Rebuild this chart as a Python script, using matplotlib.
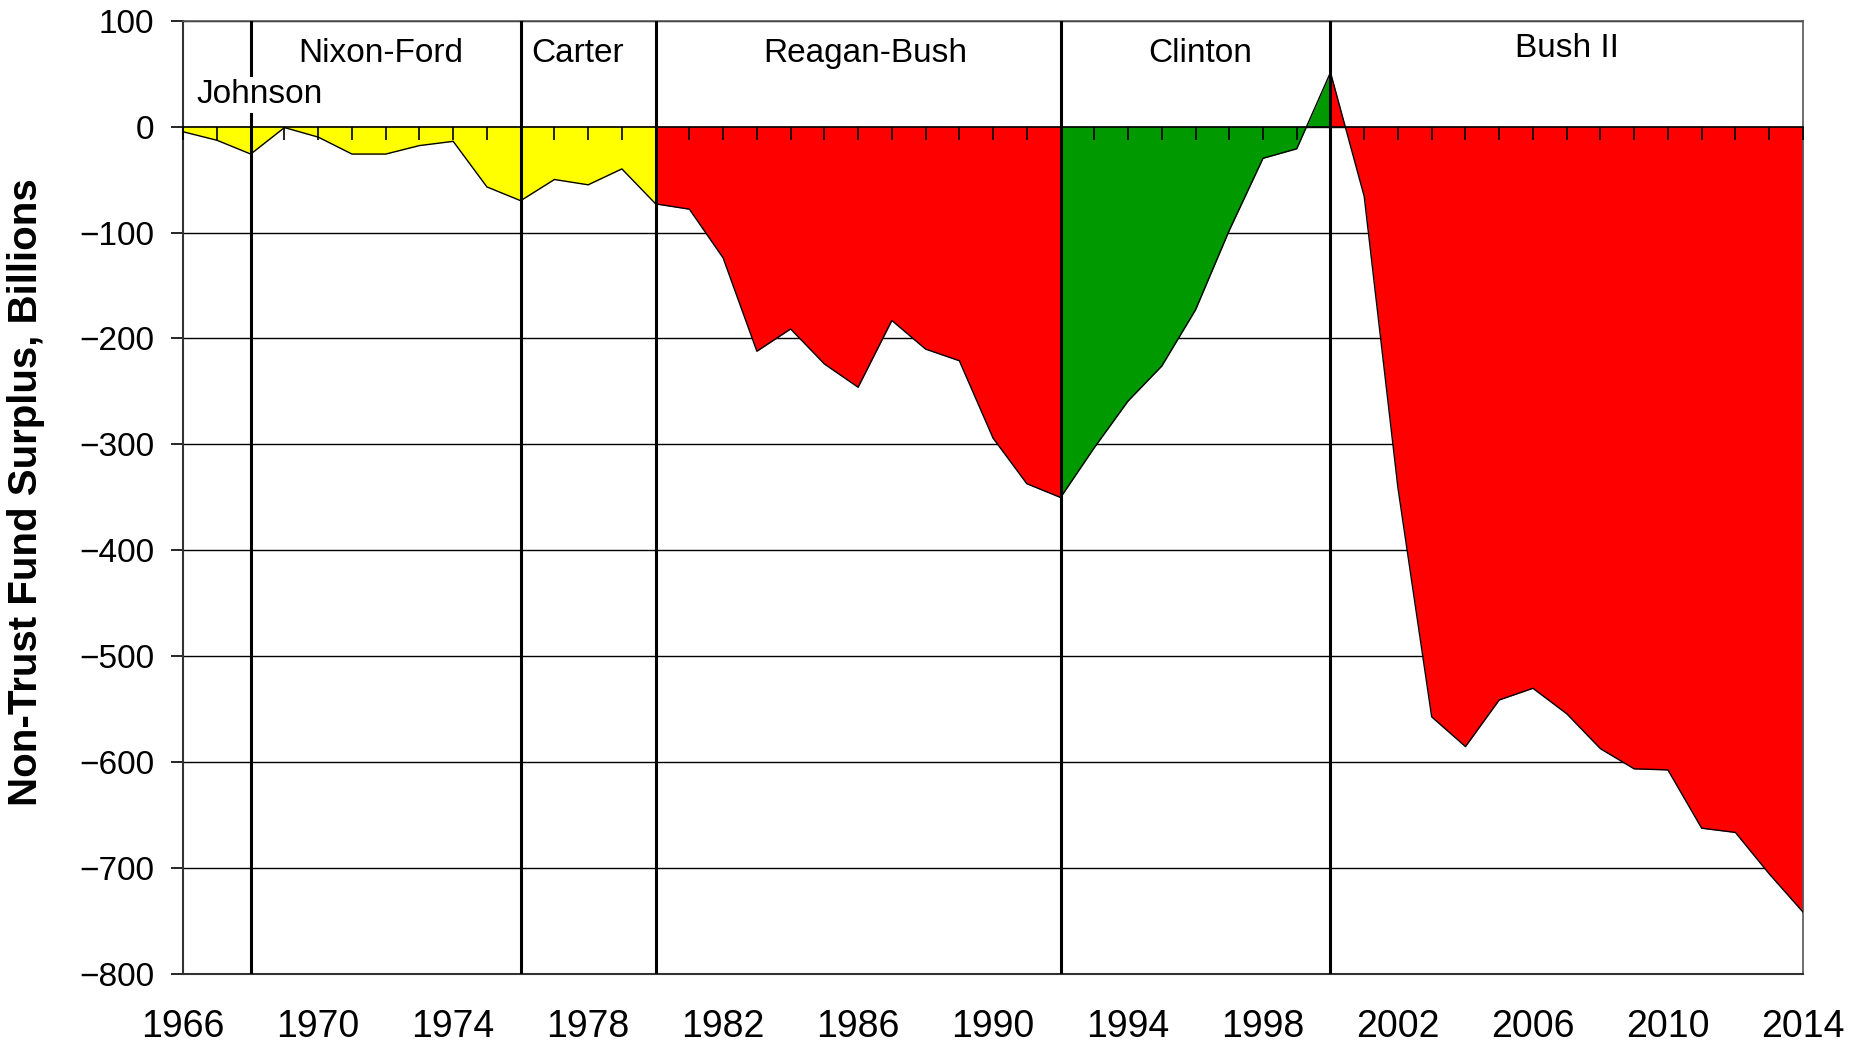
import matplotlib
matplotlib.use('Agg')
import matplotlib.pyplot as plt
import numpy as np

plt.rcParams['font.family'] = ['Liberation Sans', 'DejaVu Sans']

# Podaci: suficit bez fondova (milijarde $), po godinama
years = np.arange(1966, 2015)
surplus = np.array([
    -5, -13, -26, -1, -10, -26, -26, -18, -14, -57,        # 1966-1975
    -70, -50, -55, -40, -73, -78, -124, -212, -191, -224,  # 1976-1985
    -246, -183, -210, -221, -294, -337, -350, -303, -259, -226,  # 1986-1995
    -173, -98, -30, -21, 51, -66, -341, -557, -585, -541,  # 1996-2005
    -530, -554, -587, -606, -607, -662, -666, -705, -741,  # 2006-2014
])

# Predsjednički mandati
terms = ['Johnson', 'Nixon-Ford', 'Carter', 'Reagan-Bush', 'Clinton', 'Bush II']
term_start = [1966, 1968, 1976, 1980, 1992, 2000]
term_end = [1968, 1976, 1980, 1992, 2000, 2014]
term_colors = ['#ffff00', '#ffff00', '#ffff00', '#ff0000', '#009900', '#ff0000']

# položaj natpisa (godina, vrijednost baseline)
label_x = [1968.25, 1971.85, 1977.7, 1986.2, 1996.15, 2007.0]
label_y = [22, 61, 61, 61, 61, 66]

y_ticks = list(range(-800, 101, 100))
x_ticks = list(range(1966, 2015, 4))

fig = plt.figure(figsize=(18.51, 10.52), dpi=100)
ax = fig.add_subplot(111)
fig.subplots_adjust(left=0.099, right=0.974, top=0.9805, bottom=0.0737)

# ispune po mandatima
for start, end, col in zip(term_start, term_end, term_colors):
    m = (years >= start) & (years <= end)
    ax.fill_between(years[m], surplus[m], 0, color=col, lw=0, zorder=2)

# rub podataka
ax.plot(years, surplus, color='black', lw=1.0, zorder=3)

# granice mandata
for b in term_start[1:]:
    ax.axvline(b, color='black', lw=2.2, zorder=4)

# natpisi mandata
for name, lx, ly in zip(terms, label_x, label_y):
    kw = {}
    if name == 'Johnson':
        kw['bbox'] = dict(facecolor='white', edgecolor='none', pad=2)
    ax.text(lx, ly, name, ha='center', va='baseline', fontsize=24, zorder=5, **kw)

ax.set_xlim(1966, 2014)
ax.set_ylim(-800, 100)
ax.set_yticks(y_ticks)
ax.set_xticks(x_ticks)
ax.grid(axis='y', color='black', lw=1.0, zorder=1)
ax.set_axisbelow(True)

ax.tick_params(axis='y', direction='out', length=9, width=1.2, pad=12, labelsize=24)
ax.tick_params(axis='x', length=0, pad=25, labelsize=27)

for s in ['left', 'bottom']:
    ax.spines[s].set_color('#333333')
    ax.spines[s].set_linewidth(1.5)
for s in ['top', 'right']:
    ax.spines[s].set_color('#555555')
    ax.spines[s].set_linewidth(1.2)

# os na nuli s oznakama za svaku godinu
sec = ax.secondary_xaxis(0, transform=ax.transData)
sec.set_xticks(years)
sec.xaxis.set_ticks_position('bottom')
sec.tick_params(axis='x', direction='out', length=9, width=1.2, labelbottom=False, labeltop=False)
for s in sec.spines.values():
    s.set_color('black')
    s.set_linewidth(1.2)
sec.set_zorder(6)

fig.text(26 / 1851, 1 - 492 / 1052, 'Non-Trust Fund Surplus, Billions', rotation=90,
         ha='center', va='center', fontsize=29, fontweight='bold')

fig.savefig('out.png', dpi=100)
